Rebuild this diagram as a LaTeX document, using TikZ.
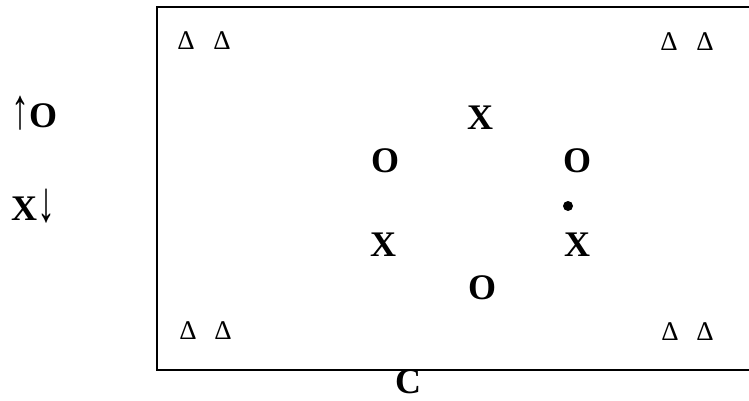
\documentclass[tikz,border=0pt]{standalone}
\usepackage{fontspec}
\setmainfont{Liberation Serif}
\newcommand{\tallarrow}[1]{\raisebox{-1pt}{\mdseries\scalebox{1}[1.6]{#1}}}
\begin{document}
\begin{tikzpicture}[x=1pt,y=-1pt,
  big/.style={inner sep=0pt,anchor=base,font=\fontsize{36}{36}\selectfont\bfseries},
  tri/.style={inner sep=0pt,anchor=base,font=\fontsize{27}{27}\selectfont},
  frame/.style={line width=2pt}]
\useasboundingbox (0,0) rectangle (749,401);
\coordinate (tl) at (157,7);
\coordinate (bl) at (157,370);
\coordinate (tr) at (749,7);
\coordinate (br) at (749,370);
\draw[frame] (tr) -- (tl) -- (bl) -- (br);
% left legend
\node[big,anchor=base west] (up) at (11,128) {\tallarrow{↑}O};
\node[big,anchor=base west] (down) at (11,220) {X\tallarrow{↓}};
% triangles
\node[tri] (t1) at (186,50) {Δ};
\node[tri] (t2) at (222,50) {Δ};
\node[tri] (t3) at (669,51) {Δ};
\node[tri] (t4) at (705,51) {Δ};
\node[tri] (t5) at (188,339) {Δ};
\node[tri] (t6) at (223,339) {Δ};
\node[tri] (t7) at (670,340) {Δ};
\node[tri] (t8) at (705,340) {Δ};
% board
\node[big] (x1) at (480,129) {X};
\node[big] (o1) at (385,172) {O};
\node[big] (o2) at (577,172) {O};
\node[big] (x2) at (383,256) {X};
\node[big] (x3) at (577,256) {X};
\node[big] (o3) at (482,299) {O};
\fill (568,206) circle (5) coordinate (dot);
\node[big] (c) at (408,393) {C};
\end{tikzpicture}
\end{document}
